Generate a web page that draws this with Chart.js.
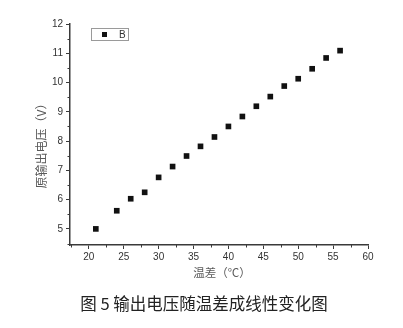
<!DOCTYPE html>
<html lang="zh">
<head>
<meta charset="UTF-8">
<title>输出电压随温差成线性变化图</title>
<script src="https://cdn.jsdelivr.net/npm/chart.js"></script>
<style>
  html, body { margin: 0; padding: 0; background: #fff; }
  #wrap { width: 403px; height: 328px; position: relative; }
</style>
</head>
<body>
<div id="wrap"><canvas id="c" width="403" height="328"></canvas></div>
<script>
// data
const tempDiff = [21, 24, 26, 28, 30, 32, 34, 36, 38, 40, 42, 44, 46, 48, 50, 52, 54, 56];
const voltage  = [5.00, 5.62, 6.03, 6.25, 6.76, 7.13, 7.49, 7.82, 8.14, 8.50, 8.84, 9.19, 9.52, 9.88, 10.13, 10.47, 10.84, 11.09];
const seriesName = 'B';
const xTicks = [20, 25, 30, 35, 40, 45, 50, 55, 60];
const xMinor = [17.5, 22.5, 27.5, 32.5, 37.5, 42.5, 47.5, 52.5, 57.5];
const yTicks = [5, 6, 7, 8, 9, 10, 11, 12];
const yMinor = [4.5, 5.5, 6.5, 7.5, 8.5, 9.5, 10.5, 11.5];
const xTitle = '温差（℃）';
const yTitle = '原输出电压（V）';
const caption = '图 5 输出电压随温差成线性变化图';

const axisColor = '#3a3a3a';

const extras = {
  id: 'extras',
  afterDraw(chart) {
    const ctx = chart.ctx;
    const xs = chart.scales.x, ys = chart.scales.y;
    ctx.save();
    // minor ticks
    ctx.strokeStyle = axisColor;
    ctx.lineWidth = 1;
    ctx.beginPath();
    xMinor.forEach(v => {
      const px = Math.round(xs.getPixelForValue(v)) + 0.5;
      ctx.moveTo(px, ys.bottom); ctx.lineTo(px, ys.bottom + 2.5);
    });
    yMinor.forEach(v => {
      const py = Math.round(ys.getPixelForValue(v)) + 0.5;
      ctx.moveTo(xs.left, py); ctx.lineTo(xs.left - 2.5, py);
    });
    ctx.stroke();

    // legend box
    ctx.strokeStyle = '#9a9a9a';
    ctx.lineWidth = 1;
    ctx.strokeRect(91.5, 28.5, 37, 12);
    ctx.fillStyle = '#111';
    ctx.fillRect(102, 32, 5, 5);
    ctx.font = '10px "Liberation Sans", Arial, sans-serif';
    ctx.textAlign = 'left';
    ctx.textBaseline = 'middle';
    ctx.fillStyle = '#333';
    ctx.fillText(seriesName, 119, 35);

    // axis titles
    ctx.font = '11.5px "Noto Sans CJK SC", sans-serif';
    ctx.fillStyle = '#5a5a5a';
    ctx.textAlign = 'center';
    ctx.fillText(xTitle, 222, 273);
    ctx.save();
    ctx.translate(41, 143);
    ctx.rotate(-Math.PI / 2);
    ctx.font = '12px "Noto Sans CJK SC", sans-serif';
    ctx.fillText(yTitle, 0, 0);
    ctx.restore();

    // caption
    ctx.font = '16.5px "Noto Sans CJK SC", sans-serif';
    ctx.fillStyle = '#222';
    ctx.fillText(caption, 204, 304);
    ctx.restore();
  }
};

new Chart(document.getElementById('c'), {
  type: 'scatter',
  data: {
    datasets: [{
      label: seriesName,
      data: tempDiff.map((t, i) => ({ x: t, y: voltage[i] })),
      pointStyle: 'rect',
      pointRadius: 4,
      pointHoverRadius: 4,
      backgroundColor: '#111',
      borderColor: '#111',
      borderWidth: 0
    }]
  },
  options: {
    responsive: false,
    animation: false,
    events: [],
    layout: { padding: { top: 24, right: 35, left: 0, bottom: 0 } },
    plugins: { legend: { display: false }, tooltip: { enabled: false } },
    scales: {
      x: {
        type: 'linear',
        min: 17.3, max: 60,
        afterBuildTicks: s => { s.ticks = xTicks.map(v => ({ value: v })); },
        afterFit: s => { s.height = 83; },
        grid: { drawOnChartArea: false, tickLength: 4, color: axisColor, tickColor: axisColor },
        border: { color: axisColor, width: 1.5 },
        ticks: { color: '#333', font: { family: '"Liberation Sans", Arial, sans-serif', size: 10 }, padding: 2, maxRotation: 0 }
      },
      y: {
        type: 'linear',
        min: 4.45, max: 12,
        afterBuildTicks: s => { s.ticks = yTicks.map(v => ({ value: v })); },
        afterFit: s => { s.width = 70; },
        grid: { drawOnChartArea: false, tickLength: 4, color: axisColor, tickColor: axisColor },
        border: { color: axisColor, width: 1.5 },
        ticks: { color: '#333', font: { family: '"Liberation Sans", Arial, sans-serif', size: 10 }, padding: 3 }
      }
    }
  },
  plugins: [extras]
});
</script>
</body>
</html>
